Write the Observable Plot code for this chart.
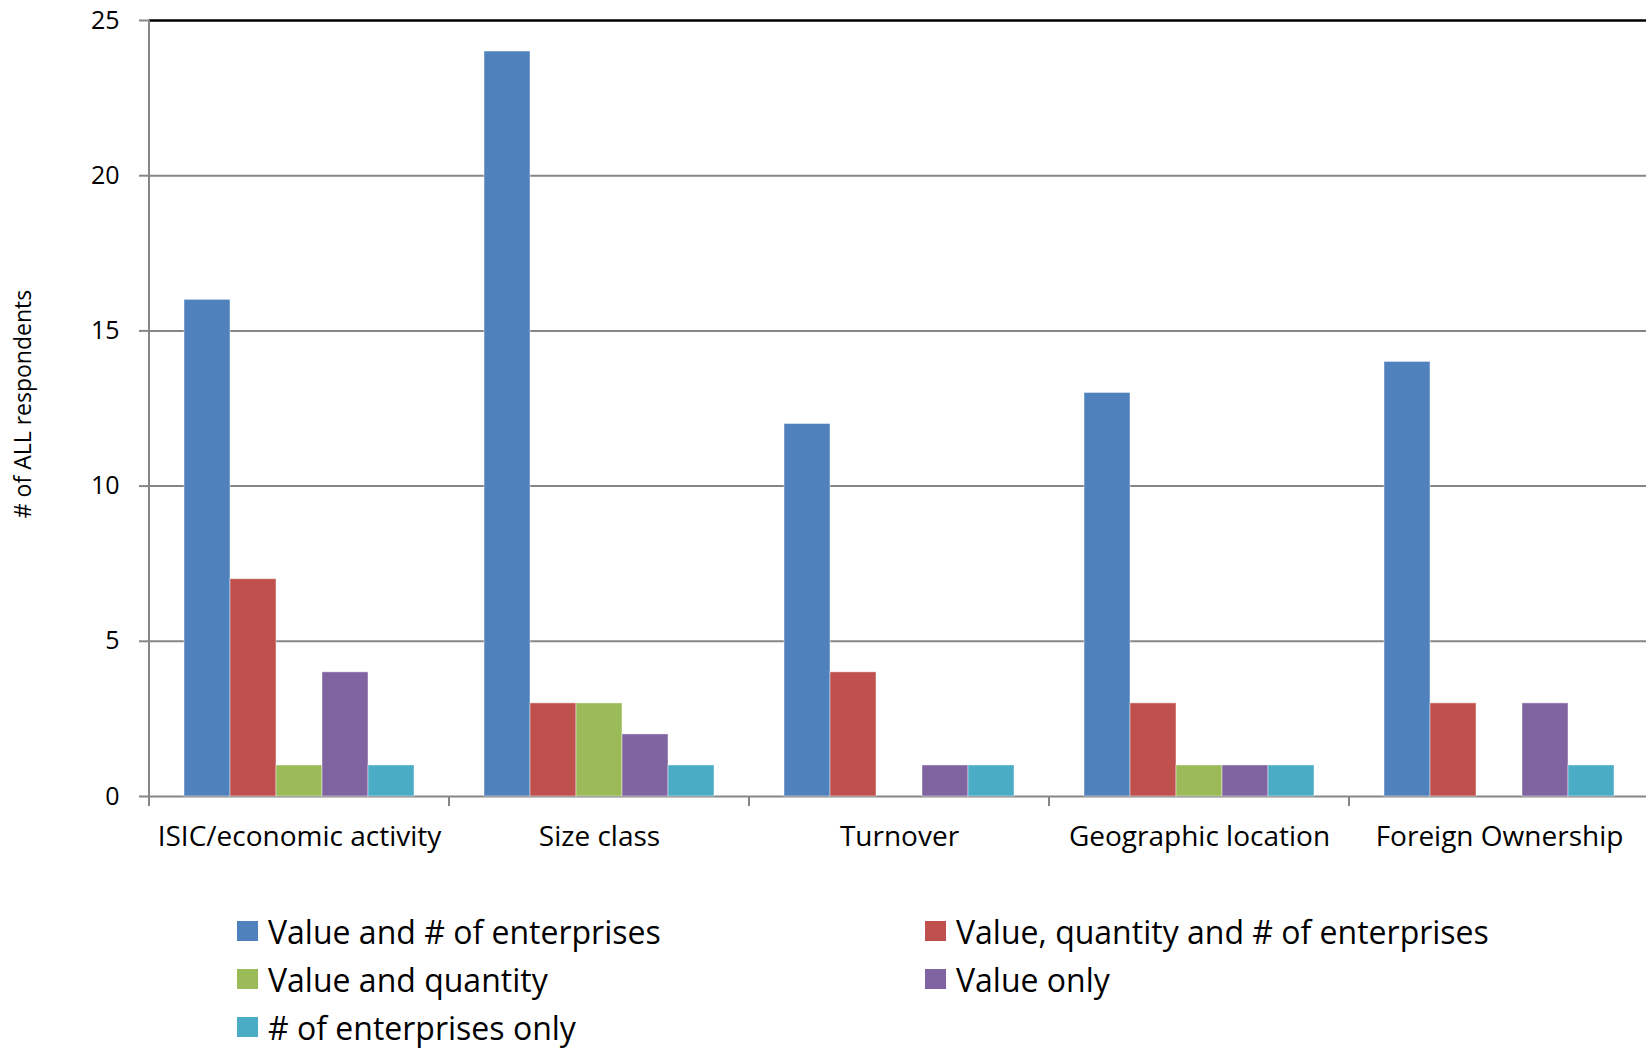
<!DOCTYPE html>
<html>
<head>
<meta charset="utf-8">
<script src="https://cdn.jsdelivr.net/npm/d3@7"></script>
<script src="https://cdn.jsdelivr.net/npm/@observablehq/plot@0.6"></script>
<style>
  body { margin: 0; background: #fff; overflow: hidden; }
  #chart svg { display: block; }
  #legend { position: relative; height: 178px; font-family: "Open Sans", sans-serif; font-size: 32px; color: #000; }
  .item { position: absolute; height: 40px; display: flex; align-items: center; white-space: nowrap; }
  .sw { width: 21px; height: 20px; margin-right: 10px; flex: none; }
</style>
</head>
<body>
<div id="chart"></div>
<div id="legend"></div>
<script>
// ---- data ----
const categories = ["ISIC/economic activity", "Size class", "Turnover", "Geographic location", "Foreign Ownership"];
const seriesNames = ["Value and # of enterprises", "Value, quantity and # of enterprises", "Value and quantity", "Value only", "# of enterprises only"];
const seriesColors = ["#4F81BD", "#C0504D", "#9BBB59", "#8064A2", "#4BACC6"];
const valueAndEnterprises = [16, 24, 12, 13, 14];
const valueQuantityEnterprises = [7, 3, 4, 3, 3];
const valueAndQuantity = [1, 3, 0, 1, 0];
const valueOnly = [4, 2, 1, 1, 3];
const enterprisesOnly = [1, 1, 1, 1, 1];
const yTicks = [0, 5, 10, 15, 20, 25];
const yTitle = "# of ALL respondents";

const seriesValues = [valueAndEnterprises, valueQuantityEnterprises, valueAndQuantity, valueOnly, enterprisesOnly];
const data = [];
categories.forEach((c, i) => {
  seriesNames.forEach((s, j) => {
    data.push({category: c, series: s, value: seriesValues[j][i]});
  });
});

const W = 1646, H = 870;
const grid = "#868686";
const plot = Plot.plot({
  width: W,
  height: H,
  marginTop: 20,
  marginBottom: 74,
  marginLeft: 147,
  marginRight: -5,
  style: {fontFamily: "'Open Sans', sans-serif", background: "transparent", color: "#000"},
  fx: {domain: categories, padding: 0, label: null},
  x: {domain: seriesNames, paddingInner: 0, paddingOuter: 0.75, axis: null},
  y: {domain: [0, 25], label: null},
  color: {domain: seriesNames, range: seriesColors},
  marks: [
    Plot.gridY(yTicks.slice(1, -1), {stroke: grid, strokeOpacity: 1, strokeWidth: 2}),
    Plot.ruleY([0], {stroke: grid, strokeWidth: 2}),
    Plot.ruleY([25], {stroke: "#000", strokeWidth: 2.5}),
    Plot.barY(data.filter(d => d.value > 0), {
      fx: "category", x: "series", y: "value", fill: "series",
      stroke: "#fff", strokeOpacity: 0.45, strokeWidth: 1
    }),
    Plot.axisY(yTicks, {tickSize: 10, tickPadding: 20, fontSize: 25, stroke: grid, strokeWidth: 2, label: null}),
    Plot.axisFx({anchor: "bottom", tickSize: 0, tickPadding: 30, fontSize: 28, label: null})
  ]
});
document.getElementById("chart").appendChild(plot);

// overlay: y axis line, category boundary ticks, y title — positioned through Plot's scales
const fx = plot.scale("fx");
const ys = plot.scale("y");
const svg = d3.select(plot);
const y0 = ys.apply(0), yTop = ys.apply(25);
const x0 = fx.apply(categories[0]);
const bounds = categories.map(c => fx.apply(c)).concat([fx.apply(categories[categories.length - 1]) + fx.bandwidth]);
svg.append("g")
  .selectAll("line").data(bounds).join("line")
  .attr("x1", d => d).attr("x2", d => d)
  .attr("y1", y0).attr("y2", y0 + 10)
  .attr("stroke", grid).attr("stroke-width", 2);
svg.append("line")
  .attr("x1", x0).attr("x2", x0)
  .attr("y1", yTop).attr("y2", y0 + 10)
  .attr("stroke", grid).attr("stroke-width", 2);
svg.append("text")
  .attr("transform", `translate(22,${(yTop + y0) / 2 - 4}) rotate(-90)`)
  .attr("text-anchor", "middle")
  .attr("dominant-baseline", "central")
  .attr("font-family", "'Open Sans', sans-serif")
  .attr("font-size", 23)
  .attr("fill", "#000")
  .text(yTitle);

// legend (HTML, below the SVG)
const legend = document.getElementById("legend");
const colLeft = [237, 925];
const rowCenter = [61, 109, 157];
seriesNames.forEach((s, i) => {
  const item = document.createElement("div");
  item.className = "item";
  item.style.left = colLeft[i % 2] + "px";
  item.style.top = (rowCenter[Math.floor(i / 2)] - 20) + "px";
  const sw = document.createElement("span");
  sw.className = "sw";
  sw.style.background = seriesColors[i];
  const t = document.createElement("span");
  t.textContent = s;
  item.appendChild(sw);
  item.appendChild(t);
  legend.appendChild(item);
});
</script>
</body>
</html>
